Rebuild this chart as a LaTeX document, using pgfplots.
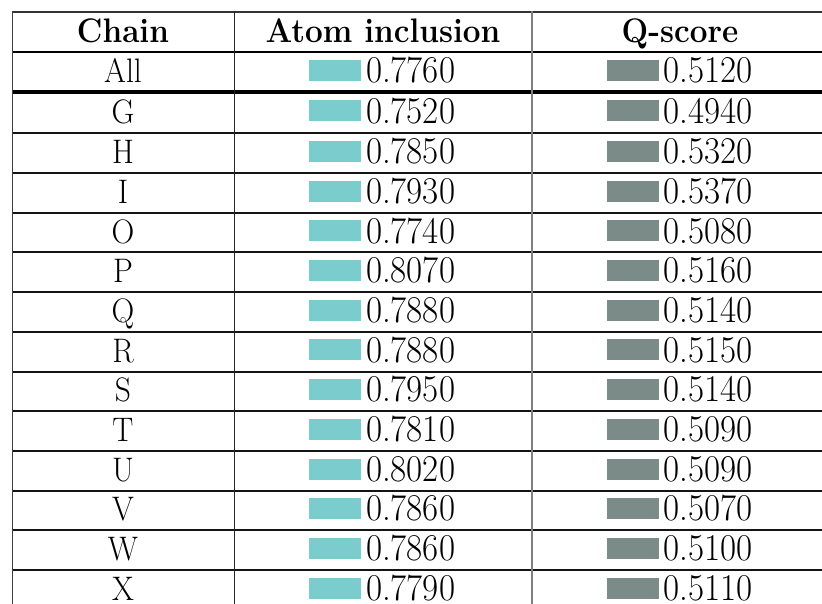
\documentclass[border=0pt]{standalone}
\usepackage{fontspec}
\usepackage{graphicx}
\usepackage{pgfplots}
\usepackage{pgfplotstable}
\pgfplotsset{compat=1.18}
\pgfplotstableread{
chain y atom q
All 72.0 0.776 0.512
G 112.7 0.752 0.494
H 153.15 0.785 0.532
I 192.85 0.793 0.537
O 232.55 0.774 0.508
P 272.25 0.807 0.516
Q 311.95 0.788 0.514
R 351.65 0.788 0.515
S 391.35 0.795 0.514
T 431.05 0.781 0.509
U 470.75 0.802 0.509
V 510.45 0.786 0.507
W 550.15 0.786 0.510
X 589.85 0.779 0.511
}\datatab
\pgfplotsset{
  colormap={tealmap}{rgb255(0cm)=(128,191,191); rgb255(1cm)=(123,204,204)},
  colormap={greymap}{rgb255(0cm)=(129,129,129); rgb255(1cm)=(123,139,136)},
}
\newcommand{\tf}{\fontsize{31.5}{38}\selectfont}
\newcommand{\nf}{\fontsize{35}{42}\selectfont}
\newcommand{\st}[1]{\scalebox{1}[1.08]{#1}}
\begin{document}
\begin{tikzpicture}
\begin{axis}[
  name=ax,
  scale only axis, width=822pt, height=604pt,
  xmin=0, xmax=822, ymin=0, ymax=604, y dir=reverse,
  hide axis, clip=true,
  /pgf/number format/assume math mode=true,
]
% table lines
\draw[line width=1.5pt, color=black!80] (axis cs:11.5,12) -- (axis cs:822,12);
\draw[line width=2.2pt, color=black] (axis cs:11.5,52) -- (axis cs:822,52);
\draw[line width=4pt, color=black] (axis cs:11.5,92.3) -- (axis cs:822,92.3);
\foreach \yy in {133.3,173.0,212.7,252.4,292.1,331.8,371.5,411.2,450.9,490.6,530.3,570.0}{
  \edef\tmp{\noexpand\draw[line width=2pt, color=black!92] (axis cs:11.5,\yy) -- (axis cs:822,\yy);}\tmp
}
\draw[line width=1.5pt, color=black!75] (axis cs:12.3,11.3) -- (axis cs:12.3,604);
\draw[line width=1.5pt, color=black!85] (axis cs:234.5,11.3) -- (axis cs:234.5,604);
\draw[line width=1.8pt, color=black!50] (axis cs:531.8,11.3) -- (axis cs:531.8,604);
% header
\node[anchor=base, inner sep=0pt] at (axis cs:123,42.5) {\st{\tf\bfseries Chain}};
\node[anchor=base, inner sep=0pt] at (axis cs:383,42.5) {\st{\tf\bfseries Atom inclusion}};
\node[anchor=base, inner sep=0pt] at (axis cs:680,42.5) {\st{\tf\bfseries Q-score}};
% chain names
\pgfplotstablegetrowsof{\datatab}
\pgfmathtruncatemacro{\nrows}{\pgfplotsretval-1}
\foreach \i in {0,...,\nrows}{
  \pgfplotstablegetelem{\i}{chain}\of{\datatab}\let\cname\pgfplotsretval
  \pgfplotstablegetelem{\i}{y}\of{\datatab}\let\cy\pgfplotsretval
  \pgfmathsetmacro{\by}{\cy+10.5}
  \edef\tmp{\noexpand\node[anchor=base, inner sep=0pt] at (axis cs:123,\by) {\noexpand\st{\noexpand\tf \cname}};}\tmp
}
% swatches
\addplot[scatter, only marks, mark=square*, mark size=10pt, colormap name=tealmap,
  point meta min=0.752, point meta max=0.807,
  scatter/use mapped color={draw=mapped color, fill=mapped color},
  every mark/.append style={xscale=2.55}]
  table[x expr=334.5, y expr=\thisrow{y}-2, meta=atom] {\datatab};
\addplot[scatter, only marks, mark=square*, mark size=10pt, colormap name=greymap,
  point meta min=0.494, point meta max=0.537,
  scatter/use mapped color={draw=mapped color, fill=mapped color},
  every mark/.append style={xscale=2.55}]
  table[x expr=632.2, y expr=\thisrow{y}-2, meta=q] {\datatab};
% values
\addplot[only marks, mark=none, point meta=explicit,
  nodes near coords={\st{\nf\pgfmathprintnumber[fixed,fixed zerofill,precision=4]{\pgfplotspointmeta}}},
  nodes near coords align=center,
  every node near coord/.append style={anchor=base west, inner sep=0pt, outer sep=0pt, text=black}]
  table[x expr=366, y expr=\thisrow{y}+10.5, meta=atom] {\datatab};
\addplot[only marks, mark=none, point meta=explicit,
  nodes near coords={\st{\nf\pgfmathprintnumber[fixed,fixed zerofill,precision=4]{\pgfplotspointmeta}}},
  nodes near coords align=center,
  every node near coord/.append style={anchor=base west, inner sep=0pt, outer sep=0pt, text=black}]
  table[x expr=663.5, y expr=\thisrow{y}+10.5, meta=q] {\datatab};
\end{axis}
\path (ax.south west) rectangle (ax.north east);
\end{tikzpicture}
\end{document}
